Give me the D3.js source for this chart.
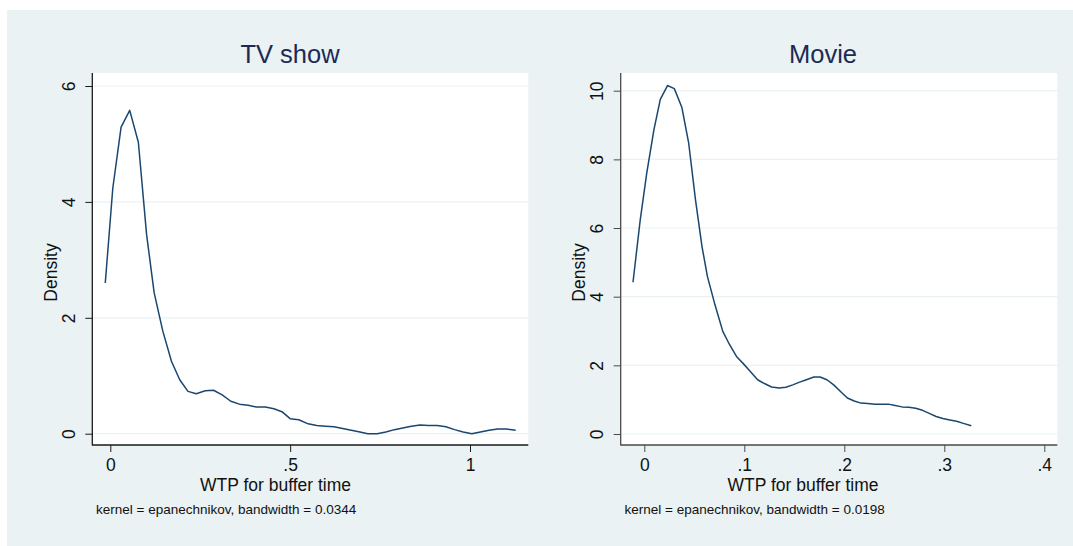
<!DOCTYPE html>
<html>
<head>
<meta charset="utf-8">
<script src="https://cdn.jsdelivr.net/npm/d3@7"></script>
<style>
  body { margin: 0; background: #fff; }
  svg text { font-family: "Liberation Sans", Arial, sans-serif; }
</style>
</head>
<body>
<div id="chart"></div>
<script>
// kernel density estimates
var tvWtp = [-0.014, 0.007, 0.030, 0.054, 0.078, 0.101, 0.122, 0.146, 0.170, 0.193,
  0.216, 0.239, 0.264, 0.287, 0.311, 0.335, 0.359, 0.383, 0.407, 0.431,
  0.455, 0.477, 0.500, 0.524, 0.550, 0.574, 0.598, 0.622, 0.646, 0.670,
  0.694, 0.716, 0.742, 0.766, 0.790, 0.813, 0.837, 0.861, 0.885, 0.909,
  0.933, 0.957, 0.981, 1.005, 1.029, 1.053, 1.077, 1.101, 1.127];
var tvDensity = [2.60, 4.24, 5.29, 5.58, 5.03, 3.43, 2.43, 1.77, 1.25, 0.93,
  0.73, 0.69, 0.74, 0.75, 0.67, 0.56, 0.51, 0.49, 0.46, 0.46,
  0.43, 0.38, 0.26, 0.24, 0.17, 0.14, 0.13, 0.12, 0.09, 0.06,
  0.03, 0.00, 0.00, 0.03, 0.07, 0.10, 0.13, 0.15, 0.14, 0.14,
  0.12, 0.07, 0.03, 0.00, 0.03, 0.06, 0.08, 0.08, 0.06];

var movieWtp = [-0.0113, -0.0041, 0.0024, 0.0096, 0.0160, 0.0232, 0.0300, 0.0375, 0.0444, 0.0512,
  0.0577, 0.0631, 0.0706, 0.0785, 0.0853, 0.0922, 0.0990, 0.1058, 0.1133, 0.1201,
  0.1273, 0.1348, 0.1416, 0.1485, 0.1553, 0.1621, 0.1696, 0.1758, 0.1826, 0.1894,
  0.1962, 0.2031, 0.2099, 0.2167, 0.2235, 0.2304, 0.2372, 0.2440, 0.2509, 0.2577,
  0.2645, 0.2713, 0.2782, 0.2850, 0.2918, 0.2986, 0.3055, 0.3123, 0.3191, 0.3270];
var movieDensity = [4.42, 6.23, 7.59, 8.86, 9.75, 10.15, 10.06, 9.52, 8.47, 6.82,
  5.46, 4.59, 3.77, 2.99, 2.60, 2.26, 2.05, 1.83, 1.58, 1.47,
  1.37, 1.34, 1.36, 1.43, 1.51, 1.58, 1.66, 1.66, 1.58, 1.43,
  1.24, 1.05, 0.96, 0.90, 0.89, 0.87, 0.87, 0.87, 0.83, 0.79,
  0.78, 0.75, 0.69, 0.60, 0.51, 0.45, 0.41, 0.37, 0.31, 0.24];

var tvXTicks = [0, 0.5, 1];
var tvYTicks = [0, 2, 4, 6];
var movieXTicks = [0, 0.1, 0.2, 0.3, 0.4];
var movieYTicks = [0, 2, 4, 6, 8, 10];

var panelTitles = ["TV show", "Movie"];
var xTitle = "WTP for buffer time";
var yTitle = "Density";
var notes = ["kernel = epanechnikov, bandwidth = 0.0344",
             "kernel = epanechnikov, bandwidth = 0.0198"];

var W = 1073, H = 546;
var bg = "#eaf2f3";
var navy = "#1a476f";

var svg = d3.select("#chart").append("svg")
  .attr("width", W)
  .attr("height", H);

svg.append("rect")
  .attr("x", 7).attr("y", 10)
  .attr("width", W - 7).attr("height", H - 10)
  .attr("fill", bg);

// stata style: no leading zero
function stataFmt(v) {
  if (v === 0) return "0";
  return String(+v.toFixed(4)).replace(/^0\./, ".");
}

var panels = [
  {
    title: panelTitles[0], note: notes[0],
    xs: tvWtp, ys: tvDensity, xTicks: tvXTicks, yTicks: tvYTicks,
    left: 92.3, right: 528.3,
    x: d3.scaleLinear().domain([0, 1]).range([110.3, 470]),
    y: d3.scaleLinear().domain([0, 6]).range([433.7, 86]),
    titleX: 290, xTitleX: 275.5, yTitleX: 57, noteX: 96, axisColor: "#1a1a1a"
  },
  {
    title: panelTitles[1], note: notes[1],
    xs: movieWtp, ys: movieDensity, xTicks: movieXTicks, yTicks: movieYTicks,
    left: 620.7, right: 1057.3,
    x: d3.scaleLinear().domain([0, 0.4]).range([644.3, 1044.3]),
    y: d3.scaleLinear().domain([0, 10]).range([434, 90.7]),
    titleX: 823, xTitleX: 803, yTitleX: 584.5, noteX: 624.5, axisColor: "#4a4a4a"
  }
];

var plotTop = 73, plotBottom = 445;

panels.forEach(function(p) {
  var g = svg.append("g");

  // plot region
  g.append("rect")
    .attr("x", p.left).attr("y", plotTop)
    .attr("width", p.right - p.left).attr("height", plotBottom - plotTop)
    .attr("fill", "#fff");

  // gridlines
  g.append("g").selectAll("line")
    .data(p.yTicks)
    .enter().append("line")
    .attr("x1", p.left).attr("x2", p.right)
    .attr("y1", function(d) { return p.y(d); })
    .attr("y2", function(d) { return p.y(d); })
    .attr("stroke", bg)
    .attr("stroke-width", 1.2);

  // density curve
  var pts = d3.zip(p.xs, p.ys);
  g.append("path")
    .datum(pts)
    .attr("fill", "none")
    .attr("stroke", navy)
    .attr("stroke-width", 1.5)
    .attr("stroke-linejoin", "round")
    .attr("d", d3.line()
      .x(function(d) { return p.x(d[0]); })
      .y(function(d) { return p.y(d[1]); }));

  // y axis
  var yAxis = g.append("g")
    .attr("transform", "translate(" + p.left + ",0)")
    .call(d3.axisLeft(p.y).tickValues(p.yTicks).tickSize(7).tickSizeOuter(0).tickFormat(stataFmt));
  yAxis.select(".domain").remove();
  yAxis.selectAll(".tick line").attr("stroke", p.axisColor);
  yAxis.selectAll(".tick text")
    .attr("transform", "rotate(-90)")
    .attr("x", 0).attr("y", -17.5).attr("dy", null)
    .attr("text-anchor", "middle")
    .attr("font-size", 17.5)
    .attr("font-family", null)
    .attr("fill", "#111");

  // x axis
  var xAxis = g.append("g")
    .attr("transform", "translate(0," + plotBottom + ")")
    .call(d3.axisBottom(p.x).tickValues(p.xTicks).tickSize(7).tickSizeOuter(0).tickFormat(stataFmt));
  xAxis.select(".domain").remove();
  xAxis.selectAll(".tick line").attr("stroke", p.axisColor);
  xAxis.selectAll(".tick text")
    .attr("y", 25.5).attr("dy", null)
    .attr("font-size", 17.5)
    .attr("font-family", null)
    .attr("fill", "#111");

  // axis lines over the full plot region
  g.append("line")
    .attr("x1", p.left).attr("x2", p.left)
    .attr("y1", plotTop).attr("y2", plotBottom + 0.5)
    .attr("stroke", p.axisColor).attr("stroke-width", 1.3);
  g.append("line")
    .attr("x1", p.left).attr("x2", p.right)
    .attr("y1", plotBottom).attr("y2", plotBottom)
    .attr("stroke", p.axisColor).attr("stroke-width", 1.3);

  // titles
  g.append("text")
    .attr("x", p.titleX).attr("y", 63)
    .attr("text-anchor", "middle")
    .attr("font-size", 25.5)
    .attr("fill", "#1c2a55")
    .text(p.title);

  g.append("text")
    .attr("x", p.xTitleX).attr("y", 491)
    .attr("text-anchor", "middle")
    .attr("font-size", 17.5)
    .attr("fill", "#111")
    .text(xTitle);

  g.append("text")
    .attr("transform", "translate(" + p.yTitleX + ",272.5) rotate(-90)")
    .attr("text-anchor", "middle")
    .attr("font-size", 17.5)
    .attr("fill", "#111")
    .text(yTitle);

  g.append("text")
    .attr("x", p.noteX).attr("y", 514)
    .attr("font-size", 13.5)
    .attr("fill", "#111")
    .text(p.note);
});
</script>
</body>
</html>
